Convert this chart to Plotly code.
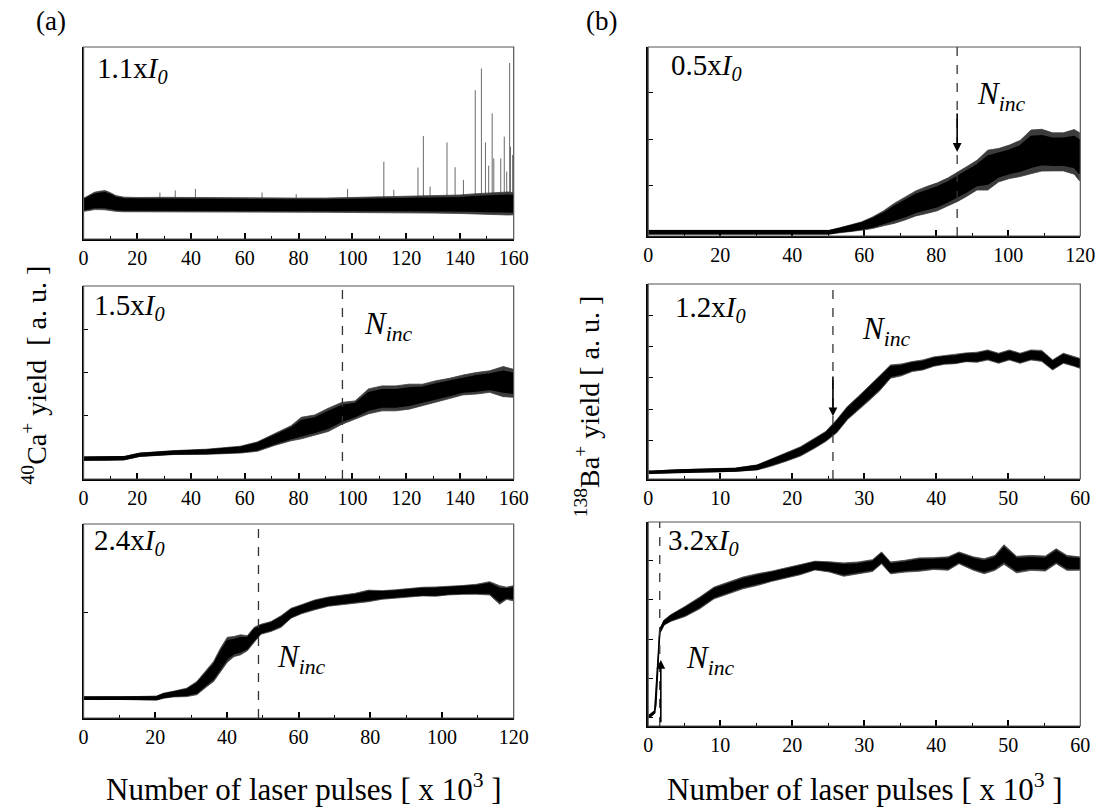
import plotly.graph_objects as go

# ---------------- data ----------------
# (a) 40Ca+ yield, 1.1 x I0  (x in 10^3 pulses, y in a.u.)
a1_pulses = [0, 2, 4, 6, 8, 10, 12, 15, 20, 30, 40, 50, 60, 70, 80, 90, 100, 110, 120, 130, 140, 145, 150, 155, 158, 160]
a1_yield = [1.78, 1.88, 1.98, 2.01, 2.02, 1.95, 1.85, 1.8, 1.79, 1.79, 1.78, 1.76, 1.76, 1.76, 1.76, 1.76, 1.77, 1.78, 1.79, 1.8, 1.81, 1.83, 1.84, 1.84, 1.85, 1.83]
a1_spread = [0.26, 0.3, 0.34, 0.37, 0.38, 0.35, 0.31, 0.29, 0.28, 0.28, 0.28, 0.27, 0.27, 0.27, 0.27, 0.27, 0.28, 0.29, 0.3, 0.32, 0.34, 0.37, 0.4, 0.42, 0.43, 0.42]
a1_range = [0.34, 0.4, 0.45, 0.48, 0.5, 0.46, 0.41, 0.38, 0.37, 0.38, 0.38, 0.37, 0.36, 0.36, 0.37, 0.37, 0.39, 0.4, 0.42, 0.45, 0.48, 0.52, 0.55, 0.57, 0.6, 0.57]
a1_spike_pulses = [28.4, 34.1, 41.6, 66.4, 79.1, 98.2, 111.7, 115.4, 124.4, 126.4, 128.9, 135.2, 138.2, 141.3, 145.7, 148.0, 149.5, 150.7, 152.0, 152.6, 155.2, 156.5, 157.4, 158.5, 158.8, 159.6]
a1_spike_tops = [2.42, 2.53, 2.61, 2.42, 2.34, 2.61, 4.03, 2.56, 3.72, 5.36, 2.73, 5.03, 3.74, 3.08, 7.75, 8.88, 5.03, 3.82, 6.54, 4.20, 4.20, 5.33, 3.51, 9.17, 4.81, 4.38]

# (a) 1.5 x I0
a2_pulses = [0, 8, 15, 20.9, 33.4, 45.9, 58.4, 64.7, 71.0, 77.2, 81.0, 86.0, 91.0, 96.0, 101.0, 106.0, 111.0, 116.1, 121.1, 126.1, 131.1, 136.1, 141.1, 146.1, 151.1, 156.1, 159.9]
a2_yield = [0, 0, 0.01, 0.09, 0.14, 0.16, 0.21, 0.28, 0.44, 0.59, 0.71, 0.78, 0.90, 1.05, 1.13, 1.33, 1.40, 1.40, 1.44, 1.48, 1.56, 1.63, 1.71, 1.75, 1.79, 1.79, 1.75]
a2_spread = [0.03, 0.03, 0.03, 0.03, 0.03, 0.04, 0.055, 0.075, 0.095, 0.12, 0.17, 0.165, 0.19, 0.18, 0.15, 0.2, 0.2, 0.2, 0.2, 0.175, 0.175, 0.165, 0.16, 0.175, 0.175, 0.24, 0.23]
a2_range = [0.04, 0.04, 0.04, 0.04, 0.045, 0.06, 0.08, 0.11, 0.135, 0.175, 0.25, 0.235, 0.27, 0.255, 0.21, 0.29, 0.29, 0.29, 0.29, 0.25, 0.25, 0.235, 0.23, 0.25, 0.25, 0.35, 0.325]
a2_ninc = 96.3

# (a) 2.4 x I0
a3_pulses = [0, 10, 20.4, 22.3, 25.1, 28.8, 31.6, 34.5, 36.3, 38.2, 40.1, 42.0, 43.8, 45.7, 47.6, 49.5, 52.3, 55.1, 57.9, 60.8, 64.5, 68.3, 72.0, 75.8, 79.5, 83.3, 87.0, 90.8, 94.6, 98.3, 102.1, 105.8, 109.6, 113.3, 116.1, 118.0, 119.9]
a3_yield = [0.189, 0.189, 0.189, 0.211, 0.227, 0.243, 0.284, 0.379, 0.442, 0.552, 0.647, 0.678, 0.694, 0.710, 0.789, 0.842, 0.868, 0.915, 0.994, 1.032, 1.073, 1.104, 1.120, 1.136, 1.158, 1.167, 1.177, 1.189, 1.199, 1.199, 1.208, 1.215, 1.221, 1.230, 1.167, 1.183, 1.183]
a3_spread = [0.01, 0.01, 0.013, 0.017, 0.019, 0.028, 0.044, 0.055, 0.066, 0.077, 0.083, 0.066, 0.066, 0.05, 0.05, 0.033, 0.033, 0.038, 0.033, 0.03, 0.033, 0.031, 0.03, 0.033, 0.038, 0.029, 0.027, 0.03, 0.029, 0.031, 0.028, 0.03, 0.033, 0.044, 0.06, 0.04, 0.05]
a3_range = [0.011, 0.011, 0.019, 0.024, 0.027, 0.04, 0.063, 0.079, 0.095, 0.11, 0.118, 0.095, 0.095, 0.071, 0.071, 0.047, 0.047, 0.055, 0.047, 0.043, 0.047, 0.044, 0.042, 0.047, 0.055, 0.041, 0.039, 0.042, 0.041, 0.044, 0.04, 0.042, 0.047, 0.063, 0.087, 0.058, 0.071]
a3_ninc = 48.8

# (b) 138Ba+ yield, 0.5 x I0
b1_pulses = [0, 50.3, 53.3, 56.3, 59.3, 62.3, 65.3, 68.3, 71.3, 74.3, 77.3, 80.3, 83.3, 85.8, 88.3, 91.3, 94.3, 97.3, 100.3, 103.3, 106.3, 109.3, 112.3, 115.3, 118.3, 119.8]
b1_yield = [0.0, 0.0, 0.047, 0.082, 0.133, 0.204, 0.297, 0.405, 0.513, 0.620, 0.692, 0.763, 0.871, 0.978, 1.086, 1.229, 1.337, 1.444, 1.516, 1.588, 1.731, 1.767, 1.731, 1.731, 1.731, 1.624]
b1_spread = [0.03, 0.03, 0.035, 0.05, 0.065, 0.09, 0.11, 0.15, 0.175, 0.19, 0.2, 0.21, 0.21, 0.22, 0.22, 0.22, 0.3, 0.25, 0.25, 0.27, 0.33, 0.31, 0.29, 0.29, 0.33, 0.36]
b1_range = [0.04, 0.04, 0.05, 0.07, 0.09, 0.125, 0.16, 0.215, 0.25, 0.27, 0.29, 0.30, 0.30, 0.32, 0.32, 0.32, 0.43, 0.36, 0.36, 0.39, 0.47, 0.45, 0.41, 0.41, 0.48, 0.52]
b1_ninc = 85.8
b1_arrow = (2.59, 1.73)  # tail, head (a.u.)

# (b) 1.2 x I0
b2_pulses = [0, 0.5, 4.15, 9.15, 12.15, 15.15, 17.15, 19.15, 21.15, 23.15, 24.65, 26.15, 27.65, 29.15, 30.65, 32.15, 33.65, 35.15, 36.65, 38.15, 39.65, 41.15, 42.65, 44.15, 45.65, 47.15, 48.65, 50.15, 51.65, 53.15, 54.65, 56.15, 57.65, 59.15, 59.9]
b2_yield = [-0.018, -0.018, 0.024, 0.046, 0.067, 0.141, 0.300, 0.470, 0.650, 0.916, 1.128, 1.446, 1.871, 2.189, 2.507, 2.825, 3.197, 3.25, 3.356, 3.409, 3.515, 3.568, 3.589, 3.653, 3.653, 3.727, 3.621, 3.727, 3.621, 3.727, 3.696, 3.409, 3.621, 3.515, 3.462]
b2_spread = [0.03, 0.03, 0.03, 0.034, 0.037, 0.056, 0.08, 0.09, 0.1, 0.11, 0.11, 0.15, 0.15, 0.15, 0.17, 0.17, 0.15, 0.13, 0.11, 0.11, 0.105, 0.1, 0.1, 0.1, 0.11, 0.11, 0.11, 0.11, 0.11, 0.11, 0.12, 0.11, 0.11, 0.105, 0.11]
b2_range = [0.04, 0.04, 0.04, 0.048, 0.053, 0.08, 0.117, 0.133, 0.149, 0.16, 0.16, 0.21, 0.21, 0.21, 0.24, 0.24, 0.21, 0.19, 0.16, 0.16, 0.15, 0.14, 0.14, 0.14, 0.16, 0.16, 0.16, 0.16, 0.16, 0.16, 0.175, 0.16, 0.16, 0.15, 0.16]
b2_ninc = 25.65
b2_arrow = (3.09, 1.77)

# (b) 3.2 x I0
b3_pulses = [0, 0.5, 0.9, 1.05, 1.3, 1.6, 2.2, 3.15, 5.15, 7.15, 9.15, 11.15, 13.15, 15.15, 17.15, 19.15, 21.15, 23.15, 25.15, 27.15, 29.15, 31.15, 32.4, 33.65, 35.65, 37.65, 39.65, 41.65, 43.15, 45.15, 46.65, 48.15, 49.4, 51.15, 53.15, 55.15, 56.65, 58.15, 59.9]
b3_yield = [0.02, 0.08, 0.15, 0.3, 1.3, 2.2, 2.42, 2.538, 2.708, 2.920, 3.175, 3.302, 3.430, 3.515, 3.600, 3.685, 3.770, 3.872, 3.838, 3.770, 3.812, 3.872, 4.067, 3.812, 3.855, 3.897, 3.923, 3.923, 4.067, 3.923, 3.855, 3.940, 4.152, 3.897, 3.940, 3.923, 4.110, 3.940, 3.923]
b3_spread = [0.02, 0.02, 0.02, 0.02, 0.03, 0.035, 0.04, 0.06, 0.09, 0.1, 0.1, 0.1, 0.1, 0.1, 0.09, 0.09, 0.09, 0.08, 0.09, 0.12, 0.1, 0.1, 0.1, 0.1, 0.1, 0.12, 0.1, 0.12, 0.1, 0.12, 0.13, 0.13, 0.17, 0.15, 0.13, 0.13, 0.13, 0.13, 0.12]
b3_range = [0.03, 0.03, 0.03, 0.03, 0.04, 0.05, 0.06, 0.085, 0.13, 0.15, 0.15, 0.15, 0.15, 0.15, 0.13, 0.13, 0.13, 0.11, 0.13, 0.17, 0.15, 0.15, 0.15, 0.15, 0.15, 0.17, 0.15, 0.17, 0.15, 0.17, 0.19, 0.19, 0.25, 0.21, 0.19, 0.19, 0.19, 0.19, 0.17]
b3_ninc = 1.6
b3_arrow = (-0.15, 1.47)

intensity_labels = ["1.1x", "1.5x", "2.4x", "0.5x", "1.2x", "3.2x"]

# ---------------- layout helpers ----------------
W, H = 1112, 810
FONT = "Liberation Serif"

def dom_x(l, r):
    return [l / W, r / W]

def dom_y(t, b):
    return [1 - b / H, 1 - t / H]

AL, AR = 80, 518
BL, BR = 655, 1095
panels = [
    dict(box=(AL, AR, 47, 239), xr=[0, 160], dt=20, mdt=10, yr=[0, 10], yticks=False),
    dict(box=(AL, AR, 286, 479), xr=[0, 160], dt=20, mdt=10, yr=[-0.473, 4.01], yticks=True),
    dict(box=(AL, AR, 524, 718), xr=[0, 120], dt=20, mdt=10, yr=[0, 1.84], yticks=True),
    dict(box=(BL, BR, 47, 236), xr=[0, 120], dt=20, mdt=10, yr=[-0.082, 3.99], yticks=True),
    dict(box=(BL, BR, 284, 479), xr=[0, 60], dt=10, mdt=5, yr=[-0.23, 5.99], yticks=True),
    dict(box=(BL, BR, 522, 726), xr=[0, 60], dt=10, mdt=5, yr=[-0.21, 4.98], yticks=True),
]

series = [
    (a1_pulses, a1_yield, a1_spread, a1_range),
    (a2_pulses, a2_yield, a2_spread, a2_range),
    (a3_pulses, a3_yield, a3_spread, a3_range),
    (b1_pulses, b1_yield, b1_spread, b1_range),
    (b2_pulses, b2_yield, b2_spread, b2_range),
    (b3_pulses, b3_yield, b3_spread, b3_range),
]

fig = go.Figure()

# spikes of panel (a) top, drawn first so the band covers their bases
sx, sy = [], []
for p, t in zip(a1_spike_pulses, a1_spike_tops):
    sx += [p, p, None]
    sy += [1.8, t, None]
fig.add_trace(go.Scatter(x=sx, y=sy, mode="lines", line=dict(color="#6a6a6a", width=1),
                         xaxis="x", yaxis="y", hoverinfo="skip", showlegend=False))


def band_xy(px, py, ps):
    up = [c + s for c, s in zip(py, ps)]
    lo = [c - s for c, s in zip(py, ps)]
    return list(px) + list(px)[::-1], up + lo[::-1]


for i, (px, py, ps, pr) in enumerate(series, start=1):
    xa = "x" if i == 1 else f"x{i}"
    ya = "y" if i == 1 else f"y{i}"
    # outer noise fringe
    xs, ys = band_xy(px, py, pr)
    fig.add_trace(go.Scatter(x=xs, y=ys, mode="lines", fill="toself", fillcolor="#3c3c3c",
                             line=dict(color="#3c3c3c", width=0.8), xaxis=xa, yaxis=ya,
                             hoverinfo="skip", showlegend=False))
    # dense core
    xs, ys = band_xy(px, py, ps)
    fig.add_trace(go.Scatter(x=xs, y=ys, mode="lines", fill="toself", fillcolor="black",
                             line=dict(color="black", width=1.6), xaxis=xa, yaxis=ya,
                             hoverinfo="skip", showlegend=False))

layout = dict(width=W, height=H, margin=dict(l=0, r=0, t=0, b=0),
              paper_bgcolor="white", plot_bgcolor="white", showlegend=False,
              font=dict(family=FONT, color="black"))
shapes, annos = [], []
for i, pn in enumerate(panels, start=1):
    l, r, t, b = pn["box"]
    sfx = "" if i == 1 else str(i)
    layout[f"xaxis{sfx}"] = dict(domain=dom_x(l, r), range=pn["xr"], anchor=f"y{sfx}",
                                 showline=True, linecolor="black", linewidth=1.5,
                                 ticks="inside", ticklen=6, tickwidth=1.5, tickcolor="black",
                                 tick0=0, dtick=pn["dt"],
                                 minor=dict(ticks="inside", ticklen=3, tickwidth=1, tickcolor="black", dtick=pn["mdt"], tick0=0),
                                 tickfont=dict(family=FONT, size=20, color="black"),
                                 showgrid=False, zeroline=False, fixedrange=True)
    layout[f"yaxis{sfx}"] = dict(domain=dom_y(t, b), range=pn["yr"], anchor=f"x{sfx}",
                                 showline=True, linecolor="black", linewidth=1.5,
                                 ticks="inside" if pn["yticks"] else "", ticklen=5, tickwidth=1.2,
                                 tickcolor="black", tick0=0, dtick=1, showticklabels=False,
                                 showgrid=False, zeroline=False, fixedrange=True)
    shapes.append(dict(type="rect", xref=f"x{sfx} domain", yref=f"y{sfx} domain",
                       x0=0, x1=1, y0=0, y1=1, line=dict(color="#555", width=1.2), layer="above"))

# dashed N_inc markers
for i, n in [(2, a2_ninc), (3, a3_ninc), (4, b1_ninc), (5, b2_ninc), (6, b3_ninc)]:
    shapes.append(dict(type="line", xref=f"x{i}", yref=f"y{i} domain", x0=n, x1=n, y0=0, y1=1,
                       line=dict(color="#333", width=1.3, dash="dash"), layer="above"))

# arrows
for i, n, (tail, head) in [(4, b1_ninc, b1_arrow), (5, b2_ninc, b2_arrow), (6, b3_ninc + 0.15, b3_arrow)]:
    annos.append(dict(x=n, y=head, ax=n, ay=tail, xref=f"x{i}", yref=f"y{i}",
                      axref=f"x{i}", ayref=f"y{i}", text="", showarrow=True,
                      arrowhead=2, arrowsize=1.1, arrowwidth=1.6, arrowcolor="black"))

# intensity labels (position as fraction of each panel)
lab_pos = [(0.027, 0.943), (0.02, 0.952), (0.02, 0.969), (0.048, 0.956), (0.057, 0.935), (0.04, 0.962)]
for i, (txt, (fx, fy)) in enumerate(zip(intensity_labels, lab_pos), start=1):
    sfx = "" if i == 1 else str(i)
    annos.append(dict(text=f"{txt}<i>I<sub>0</sub></i>", xref=f"x{sfx} domain", yref=f"y{sfx} domain",
                      x=fx, y=fy, xanchor="left", yanchor="top", yshift=8, showarrow=False,
                      font=dict(family=FONT, size=29, color="black")))

ninc_pos = [(2, 0.647, 0.866), (3, 0.444, 0.377), (4, 0.757, 0.815), (5, 0.49, 0.833), (6, 0.082, 0.39)]
for i, fx, fy in ninc_pos:
    annos.append(dict(text="<i>N<sub>inc</sub></i>", xref=f"x{i} domain", yref=f"y{i} domain",
                      x=fx, y=fy, xanchor="left", yanchor="top", yshift=8, showarrow=False,
                      font=dict(family=FONT, size=31, color="black")))

# panel letters
annos.append(dict(text="(a)", xref="paper", yref="paper", x=30 / W, y=1 - 21 / H, xanchor="left",
                  yanchor="middle", showarrow=False, font=dict(family=FONT, size=27, color="black")))
annos.append(dict(text="(b)", xref="paper", yref="paper", x=590 / W, y=1 - 21 / H, xanchor="left",
                  yanchor="middle", showarrow=False, font=dict(family=FONT, size=27, color="black")))

# axis titles
xt = "Number of laser pulses [ x 10<sup>3</sup> ]"
annos.append(dict(text=xt, xref="paper", yref="paper", x=304 / W, y=1 - 809 / H, xanchor="center",
                  yanchor="bottom", showarrow=False, font=dict(family=FONT, size=31, color="black")))
annos.append(dict(text=xt, xref="paper", yref="paper", x=876 / W, y=1 - 809 / H, xanchor="center",
                  yanchor="bottom", showarrow=False, font=dict(family=FONT, size=31, color="black")))
annos.append(dict(text="<sup>40</sup>Ca<sup>+</sup> yield  [ a. u. ]", xref="paper", yref="paper",
                  x=30 / W, y=1 - 375 / H, xanchor="center", yanchor="middle", textangle=-90,
                  showarrow=False, font=dict(family=FONT, size=28, color="black")))
annos.append(dict(text="<sup>138</sup>Ba<sup>+</sup> yield [ a. u. ]", xref="paper", yref="paper",
                  x=593 / W, y=1 - 406 / H, xanchor="center", yanchor="middle", textangle=-90,
                  showarrow=False, font=dict(family=FONT, size=28, color="black")))

layout["shapes"] = shapes
layout["annotations"] = annos
fig.update_layout(**layout)
fig.write_html("out.html")
